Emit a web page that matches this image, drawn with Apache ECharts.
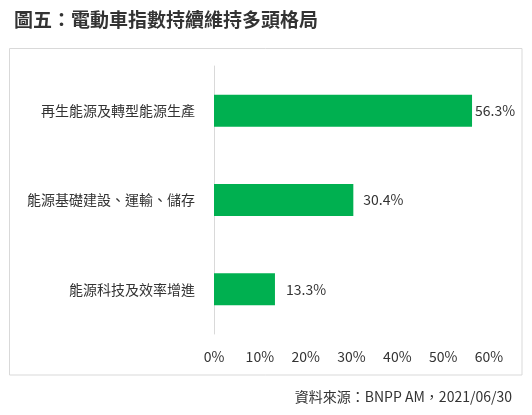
<!DOCTYPE html>
<html>
<head>
<meta charset="utf-8">
<script src="https://cdn.jsdelivr.net/npm/echarts@6/dist/echarts.min.js"></script>
<style>
html,body{margin:0;padding:0;background:#fff;}
#c{width:532px;height:415px;}
</style>
</head>
<body>
<div id="c"></div>
<script>
var categories = ['再生能源及轉型能源生產', '能源基礎建設、運輸、儲存', '能源科技及效率增進'];
var values = [56.3, 30.4, 13.3];
var labelGaps = [3, 10, 11];
var titleText = '圖五：電動車指數持續維持多頭格局';
var sourceText = '資料來源：BNPP AM，2021/06/30';

var FONT = '"Noto Sans CJK TC", "Noto Sans", sans-serif';
var chart = echarts.init(document.getElementById('c'));
chart.setOption({
  backgroundColor: '#fff',
  animation: false,
  title: {
    text: titleText,
    left: 9, top: 5,
    textStyle: {fontFamily: FONT, fontSize: 19, fontWeight: 'bold', color: '#333'}
  },
  graphic: [
    {type: 'rect', shape: {x: 9.5, y: 48.5, width: 512.5, height: 326.5},
     style: {fill: 'none', stroke: '#d9d9d9', lineWidth: 1}, z: -1},
    {type: 'text', right: 20, top: 390,
     style: {text: sourceText, font: '14px ' + FONT, fill: '#333'}}
  ],
  grid: {left: 214, right: 43, top: 66, bottom: 81},
  xAxis: {
    type: 'value', min: 0, max: 60, interval: 10,
    axisLine: {show: false}, axisTick: {show: false}, splitLine: {show: false},
    axisLabel: {formatter: '{value}%', color: '#333', fontSize: 14, fontFamily: FONT, margin: 16}
  },
  yAxis: {
    type: 'category', data: categories, inverse: true,
    axisLine: {show: true, lineStyle: {color: '#d9d9d9'}},
    axisTick: {show: false},
    axisLabel: {color: '#333', fontSize: 14, fontFamily: FONT, margin: 19}
  },
  series: [{
    type: 'bar',
    barWidth: 32,
    data: values.map(function (v, i) {
      return {value: v, label: {distance: labelGaps[i]}};
    }),
    itemStyle: {color: '#00b050'},
    label: {show: true, position: 'right', formatter: '{c}%', color: '#333', fontSize: 14, fontFamily: FONT}
  }]
});
</script>
</body>
</html>
